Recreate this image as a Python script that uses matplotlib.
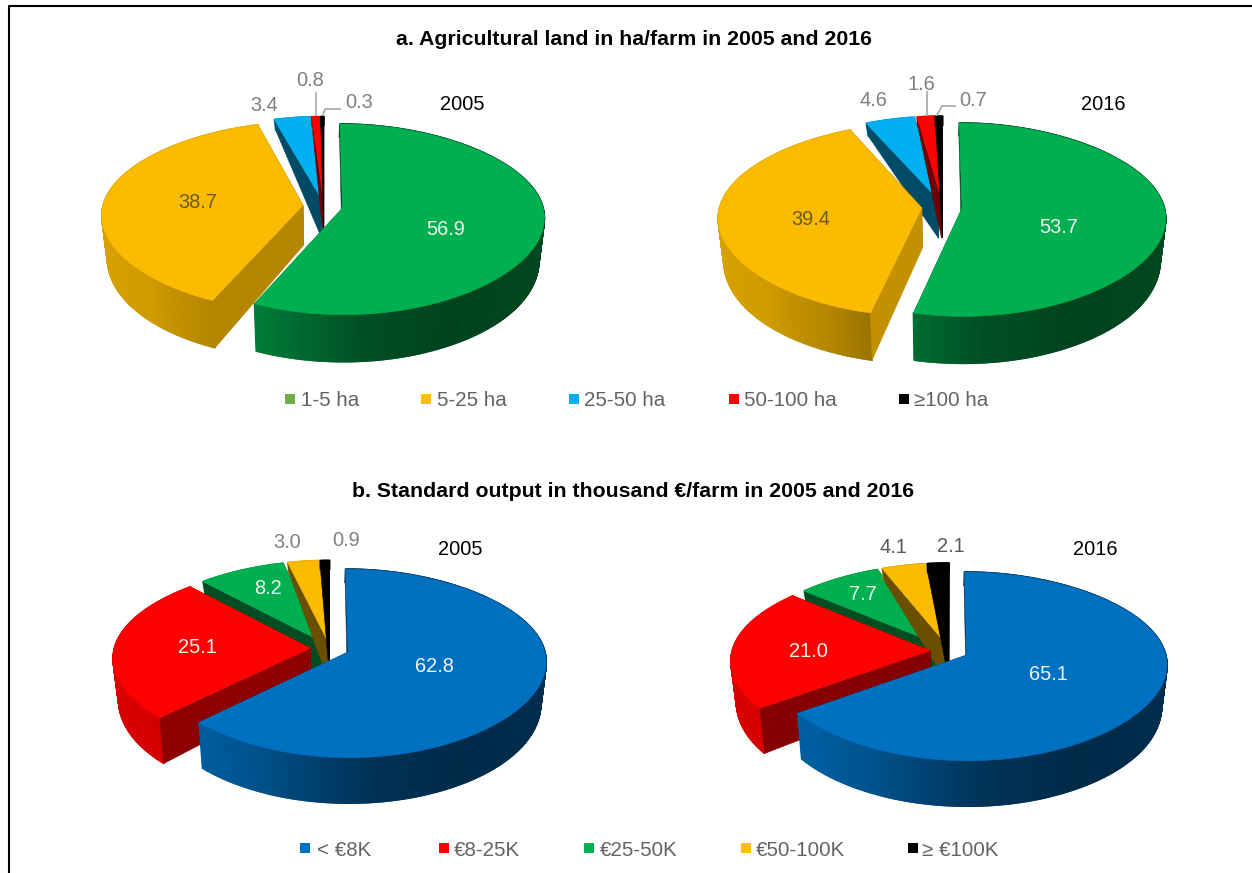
import numpy as np
import matplotlib
matplotlib.use("Agg")
import matplotlib.pyplot as plt
from matplotlib.colors import to_rgb

plt.rcParams["font.family"] = ["Liberation Sans", "DejaVu Sans"]

# shares in percent, clockwise from 12 o'clock
land_2005 = [56.9, 38.7, 3.4, 0.8, 0.3]
land_2016 = [53.7, 39.4, 4.6, 1.6, 0.7]
output_2005 = [62.8, 25.1, 8.2, 3.0, 0.9]
output_2016 = [65.1, 21.0, 7.7, 4.1, 2.1]

land_labels = ["1-5 ha", "5-25 ha", "25-50 ha", "50-100 ha", "≥100 ha"]
output_labels = ["< €8K", "€8-25K", "€25-50K", "€50-100K", "≥ €100K"]

land_colors = ["#00B050", "#FBBB00", "#00B0F0", "#FF0000", "#000000"]
output_colors = ["#0070C0", "#FF0000", "#00B050", "#FBBB00", "#000000"]
land_legend_colors = ["#70AD47", "#FFC000", "#00B0F0", "#FF0000", "#000000"]
output_legend_colors = ["#0070C0", "#FF0000", "#00B050", "#FFC000", "#000000"]

PX = 0.72  # font size in points for one pixel at dpi 100

fig = plt.figure(figsize=(12.52, 8.73), dpi=100)
ax = fig.add_axes([0, 0, 1, 1])
ax.set_xlim(0, 1252)
ax.set_ylim(873, 0)
ax.axis("off")


def shade(color, f):
    return tuple(c * f for c in to_rgb(color))


def wall_outer(theta):
    return np.interp(theta, [0, 90, 150, 175, 205, 226, 270, 360],
                     [.42, .42, .38, .45, .72, .83, .88, .88])


def wall_start(theta):
    return np.interp(theta, [0, 195, 205, 226, 240, 320, 345, 360],
                     [.45, .78, .72, .55, .5, .43, .42, .45])


def draw_pie(values, colors, cx, cy, a, b, explode, order, depth=1.0):
    def top(u, v):
        sx = 1 - .11 * v - .035 * v ** 2
        sy = 1 / (1 + .12 * v)
        return cx + a * u * sx, cy - b * v * sy

    def bottom(u, v):
        x, y = top(u, v)
        d = depth * (40 - 17.5 * v - 10.5 * v ** 2)
        return cx + .975 * (x - cx), y + d

    def quad(p, q, col, lw=.4):
        (u0, v0), (u1, v1) = p, q
        pts = [top(u0, v0), top(u1, v1), bottom(u1, v1), bottom(u0, v0)]
        ax.fill(*zip(*pts), color=col, lw=lw, zorder=z)

    edges = np.cumsum([0] + list(values)) / sum(values) * 360
    for z, i in enumerate(order, start=2):
        t0, t1 = edges[i], edges[i + 1]
        mid = np.radians((t0 + t1) / 2)
        du, dv = explode[i] * np.sin(mid), explode[i] * np.cos(mid)
        th = np.linspace(t0, t1, max(int(t1 - t0) * 2, 3))
        us = np.sin(np.radians(th)) + du
        vs = np.cos(np.radians(th)) + dv
        apex = (du, dv)

        quad(apex, (us[-1], vs[-1]), shade(colors[i], .45))
        for j in np.argsort(-vs[:-1]):
            quad((us[j], vs[j]), (us[j + 1], vs[j + 1]),
                 shade(colors[i], wall_outer((th[j] + th[j + 1]) / 2)), lw=1.2)
        quad(apex, (us[0], vs[0]), shade(colors[i], wall_start(t0)))

        xs, ys = top(np.r_[du, us], np.r_[dv, vs])
        ax.fill(xs, ys, color=colors[i], lw=.4, zorder=z)


def label(x, y, s, color="#7F7F7F", size=20):
    ax.text(x, y + 1.5, s, color=color, fontsize=size * PX, ha="center", va="center",
            zorder=20)


def legend(xs_box, xs_text, y, labels, colors):
    for xb, xt, s, c in zip(xs_box, xs_text, labels, colors):
        ax.fill([xb, xb + 10, xb + 10, xb], [y - 5, y - 5, y + 5, y + 5], color=c, lw=0)
        ax.text(xt, y + 2, s, color="#636363", fontsize=20.5 * PX, ha="left", va="center")


# frame
ax.plot([8.5, 8.5, 1252], [873, 5.5, 5.5], color="black", lw=1.5, clip_on=False)

# panel a
ax.text(634, 39.5, "a. Agricultural land in ha/farm in 2005 and 2016", fontsize=21.3 * PX,
        fontweight="bold", ha="center", va="center")
e_land = [.095, .105, .08, .08, .08]
draw_pie(land_2005, land_colors, 324, 206, 200, 93.5, e_land, [2, 3, 4, 1, 0])
draw_pie(land_2016, land_colors, 943, 207, 202, 95, e_land, [2, 3, 4, 1, 0])

label(446, 228, "56.9", "#F2F2F2")
label(198, 201, "38.7", "#6B5A22")
label(264, 104, "3.4")
label(310, 79, "0.8")
label(359, 101, "0.3")
label(462, 103, "2005", "black")
label(1059, 226, "53.7", "#F2F2F2")
label(811, 218, "39.4", "#6B5A22")
label(873, 99, "4.6")
label(921, 83, "1.6")
label(973, 99, "0.7")
label(1103, 103, "2016", "black")

# leader lines
leader = dict(color="#A6A6A6", lw=1.2, zorder=15)
ax.plot([316, 316], [93, 115], **leader)
ax.plot([340, 325, 323], [109, 109, 115], **leader)
ax.plot([927, 927], [92, 115], **leader)
ax.plot([955, 942, 937], [106, 106, 115], **leader)

legend([285, 421, 569, 729, 899], [301, 437, 584, 744, 914], 399, land_labels, land_legend_colors)

# panel b
ax.text(633, 491.5, "b. Standard output in thousand €/farm in 2005 and 2016", fontsize=21.3 * PX,
        fontweight="bold", ha="center", va="center")
draw_pie(output_2005, output_colors, 330, 648.4, 196, 92, [.1, .1, .08, .08, .08],
         [2, 3, 4, 1, 0], depth=.97)
draw_pie(output_2016, output_colors, 950, 651, 198, 92, [.095, .1, .08, .08, .08],
         [2, 3, 4, 1, 0], depth=.97)

label(434, 665, "62.8", "#F2F2F2")
label(197, 646, "25.1", "#F2F2F2")
label(268, 587, "8.2", "#F2F2F2")
label(287, 541, "3.0")
label(346, 539, "0.9")
label(460, 548, "2005", "black")
label(1048, 673, "65.1", "#F2F2F2")
label(808, 650, "21.0", "#F2F2F2")
label(863, 593, "7.7", "#F2F2F2")
label(893, 546, "4.1", "#595959")
label(951, 545, "2.1", "#595959")
label(1095, 548, "2016", "black")

legend([300, 439, 584, 741, 908], [317, 454, 600, 756, 922], 848, output_labels, output_legend_colors)

fig.savefig("out.png", dpi=100)
